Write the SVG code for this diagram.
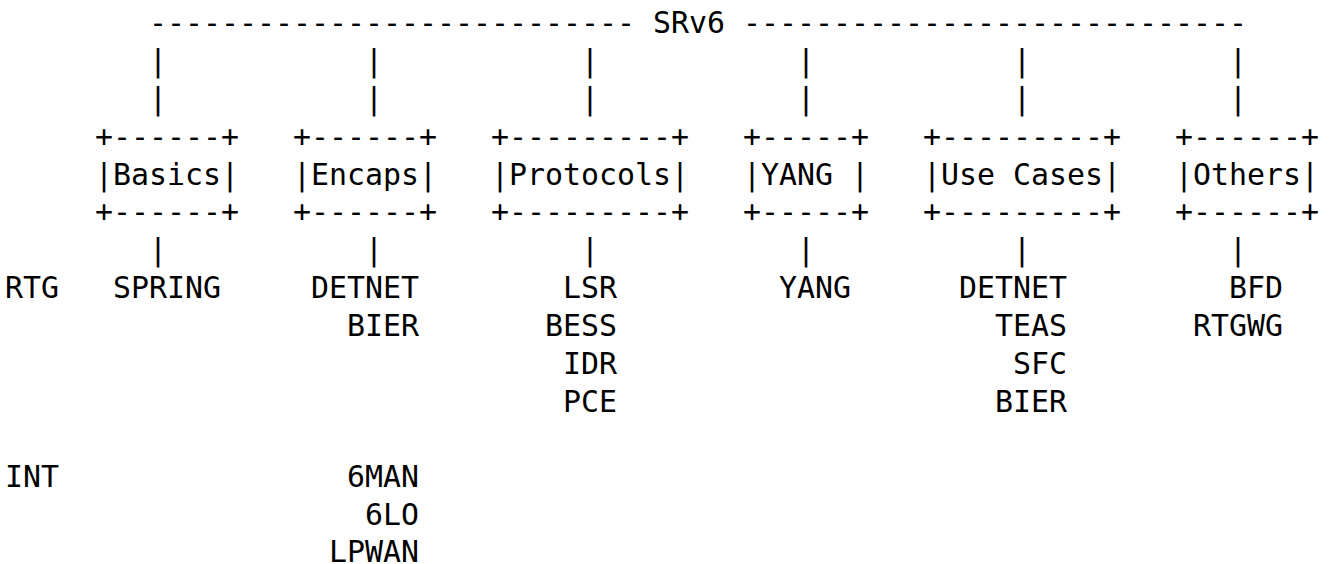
<svg xmlns="http://www.w3.org/2000/svg" width="1330" height="564" viewBox="0 0 1330 564" xml:space="preserve">
  <style>
    text { font-family: "DejaVu Sans Mono", "Liberation Mono", monospace; font-size: 29.9px; fill: #000; white-space: pre; }
  </style>
  <rect width="1330" height="564" fill="#fff"/>

  <!-- character grid: x = 5 + 18*col, baseline y = 33.2 + 37.85*row -->

  <!-- bus line and vertical connectors -->
  <g id="connectors">
    <text x="149" y="33.2">---------------------------</text>
    <text x="743" y="33.2">----------------------------</text>
    <text x="149" y="71.05">|</text>
    <text x="365" y="71.05">|</text>
    <text x="581" y="71.05">|</text>
    <text x="797" y="71.05">|</text>
    <text x="1013" y="71.05">|</text>
    <text x="1229" y="71.05">|</text>
    <text x="149" y="108.9">|</text>
    <text x="365" y="108.9">|</text>
    <text x="581" y="108.9">|</text>
    <text x="797" y="108.9">|</text>
    <text x="1013" y="108.9">|</text>
    <text x="1229" y="108.9">|</text>
    <text x="149" y="260.3">|</text>
    <text x="365" y="260.3">|</text>
    <text x="581" y="260.3">|</text>
    <text x="797" y="260.3">|</text>
    <text x="1013" y="260.3">|</text>
    <text x="1229" y="260.3">|</text>
  </g>

  <g id="node-srv6">
    <text x="653" y="33.2">SRv6</text>
  </g>

  <g id="node-basics">
    <text x="95" y="146.75">+------+</text>
    <text x="95" y="184.6">|Basics|</text>
    <text x="95" y="222.45">+------+</text>
  </g>

  <g id="node-encaps">
    <text x="293" y="146.75">+------+</text>
    <text x="293" y="184.6">|Encaps|</text>
    <text x="293" y="222.45">+------+</text>
  </g>

  <g id="node-protocols">
    <text x="491" y="146.75">+---------+</text>
    <text x="491" y="184.6">|Protocols|</text>
    <text x="491" y="222.45">+---------+</text>
  </g>

  <g id="node-yang">
    <text x="743" y="146.75">+-----+</text>
    <text x="743" y="184.6">|YANG |</text>
    <text x="743" y="222.45">+-----+</text>
  </g>

  <g id="node-use-cases">
    <text x="923" y="146.75">+---------+</text>
    <text x="923" y="184.6">|Use Cases|</text>
    <text x="923" y="222.45">+---------+</text>
  </g>

  <g id="node-others">
    <text x="1175" y="146.75">+------+</text>
    <text x="1175" y="184.6">|Others|</text>
    <text x="1175" y="222.45">+------+</text>
  </g>

  <!-- area labels -->
  <g id="area-rtg">
    <text x="5" y="298.15">RTG</text>
  </g>
  <g id="area-int">
    <text x="5" y="487.4">INT</text>
  </g>

  <!-- working groups under each category -->
  <g id="wg-basics">
    <text x="113" y="298.15">SPRING</text>
  </g>

  <g id="wg-encaps">
    <text x="311" y="298.15">DETNET</text>
    <text x="347" y="336">BIER</text>
    <text x="347" y="487.4">6MAN</text>
    <text x="365" y="525.25">6LO</text>
    <text x="329" y="561.5">LPWAN</text>
  </g>

  <g id="wg-protocols">
    <text x="563" y="298.15">LSR</text>
    <text x="545" y="336">BESS</text>
    <text x="563" y="373.85">IDR</text>
    <text x="563" y="411.7">PCE</text>
  </g>

  <g id="wg-yang">
    <text x="779" y="298.15">YANG</text>
  </g>

  <g id="wg-use-cases">
    <text x="959" y="298.15">DETNET</text>
    <text x="995" y="336">TEAS</text>
    <text x="1013" y="373.85">SFC</text>
    <text x="995" y="411.7">BIER</text>
  </g>

  <g id="wg-others">
    <text x="1229" y="298.15">BFD</text>
    <text x="1193" y="336">RTGWG</text>
  </g>
</svg>
